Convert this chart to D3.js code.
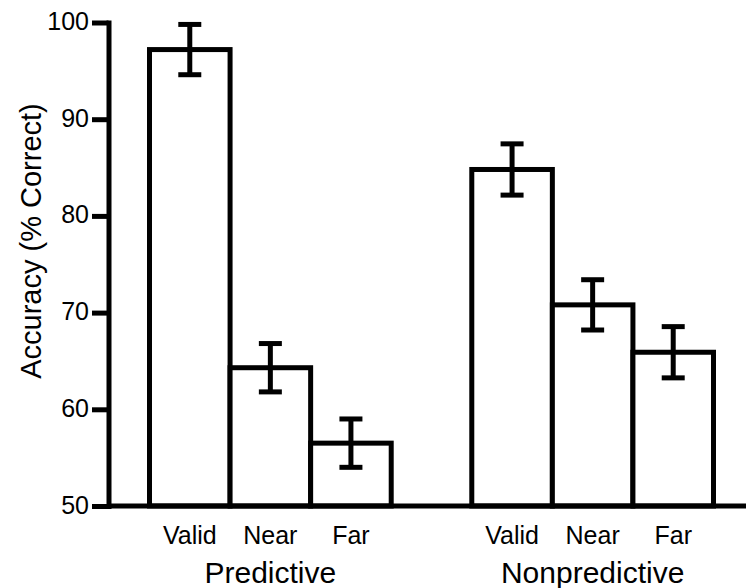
<!DOCTYPE html>
<html>
<head>
<meta charset="utf-8">
<script src="https://cdn.jsdelivr.net/npm/d3@7"></script>
<style>
  body { margin: 0; background: #fff; }
  text { font-family: "Liberation Sans", Arial, sans-serif; fill: #000; }
</style>
</head>
<body>
<svg id="chart" width="746" height="588"></svg>
<script>
// data
var groups = ["Predictive", "Nonpredictive"];
var conditions = ["Valid", "Near", "Far"];
var accuracy = {
  Predictive:    [97.2, 64.3, 56.5],
  Nonpredictive: [84.8, 70.8, 65.9]
};
var errors = {
  Predictive:    [2.6, 2.5, 2.5],
  Nonpredictive: [2.65, 2.6, 2.65]
};
var yTicks = [50, 60, 70, 80, 90, 100];

var width = 746, height = 588;
var svg = d3.select("#chart");

// slots: three bars, one empty slot, three bars
var slots = [];
groups.forEach(function(g, i) {
  if (i > 0) slots.push("gap" + i);
  conditions.forEach(function(c) { slots.push(g + "-" + c); });
});

var x = d3.scaleBand().domain(slots).range([149.5, 713.5]).paddingInner(0);
var y = d3.scaleLinear().domain([50, 100]).range([506, 22.5]);
var axisX = 108.5;

var bars = [];
groups.forEach(function(g) {
  conditions.forEach(function(c, j) {
    bars.push({ group: g, cond: c, key: g + "-" + c, value: accuracy[g][j], err: errors[g][j] });
  });
});

// bars
svg.selectAll("rect.bar")
  .data(bars)
  .enter()
  .append("rect")
  .attr("class", "bar")
  .attr("x", function(d) { return x(d.key); })
  .attr("width", x.bandwidth())
  .attr("y", function(d) { return y(d.value); })
  .attr("height", function(d) { return y(50) - y(d.value); })
  .attr("fill", "white")
  .attr("stroke", "black")
  .attr("stroke-width", 5);

// error bars
var eb = svg.selectAll("g.err")
  .data(bars)
  .enter()
  .append("g")
  .attr("class", "err")
  .attr("transform", function(d) {
    return "translate(" + (x(d.key) + x.bandwidth() / 2) + ",0)";
  });

eb.append("line")
  .attr("x1", 0).attr("x2", 0)
  .attr("y1", function(d) { return y(d.value + d.err); })
  .attr("y2", function(d) { return y(d.value - d.err); })
  .attr("stroke", "black").attr("stroke-width", 5);

eb.selectAll("line.cap")
  .data(function(d) { return [d.value + d.err, d.value - d.err]; })
  .enter()
  .append("line")
  .attr("class", "cap")
  .attr("x1", -11.5).attr("x2", 11.5)
  .attr("y1", function(v) { return y(v); })
  .attr("y2", function(v) { return y(v); })
  .attr("stroke", "black").attr("stroke-width", 5);

// x axis baseline
svg.append("line")
  .attr("x1", axisX).attr("x2", width)
  .attr("y1", y(50)).attr("y2", y(50))
  .attr("stroke", "black").attr("stroke-width", 5);

// y axis
var yAxis = svg.append("g")
  .attr("transform", "translate(" + axisX + ",0)")
  .call(d3.axisLeft(y).tickValues(yTicks).tickSize(16.5).tickSizeOuter(0).tickPadding(3));

yAxis.select(".domain")
  .attr("stroke", "black").attr("stroke-width", 5).attr("stroke-linecap", "square");
yAxis.selectAll(".tick line")
  .attr("stroke", "black").attr("stroke-width", 5);
yAxis.selectAll(".tick text")
  .attr("dy", "0.28em")
  .style("font-family", "'Liberation Sans', Arial, sans-serif")
  .style("font-size", "25px")
  .attr("fill", "black");

// condition labels
svg.selectAll("text.cond")
  .data(bars)
  .enter()
  .append("text")
  .attr("class", "cond")
  .attr("x", function(d) { return x(d.key) + x.bandwidth() / 2; })
  .attr("y", 544)
  .attr("text-anchor", "middle")
  .style("font-size", "25px")
  .text(function(d) { return d.cond; });

// group labels
svg.selectAll("text.group")
  .data(groups)
  .enter()
  .append("text")
  .attr("class", "group")
  .attr("x", function(g) {
    var first = x(g + "-" + conditions[0]);
    var last = x(g + "-" + conditions[conditions.length - 1]) + x.bandwidth();
    return (first + last) / 2;
  })
  .attr("y", 583)
  .attr("text-anchor", "middle")
  .style("font-size", "30px")
  .text(function(g) { return g; });

// y title
svg.append("text")
  .attr("transform", "translate(41,241) rotate(-90)")
  .attr("text-anchor", "middle")
  .style("font-size", "29px")
  .text("Accuracy (% Correct)");
</script>
</body>
</html>
